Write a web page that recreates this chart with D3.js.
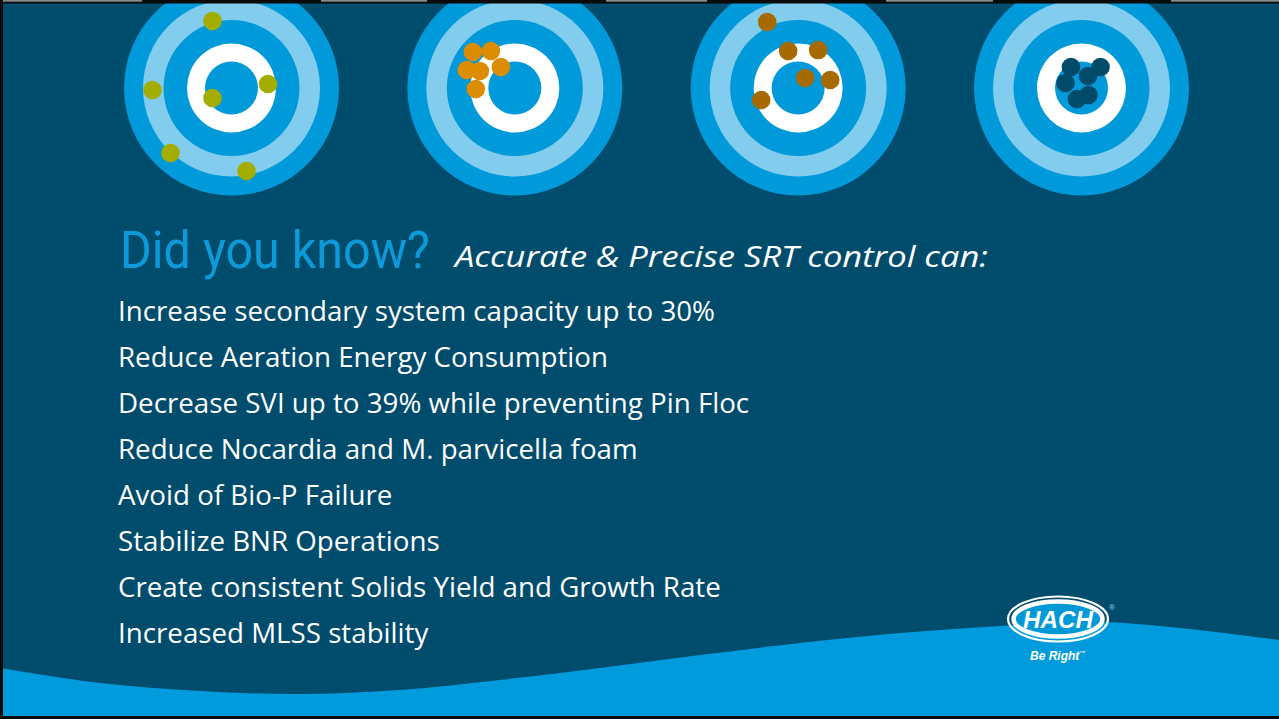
<!DOCTYPE html>
<html>
<head>
<meta charset="utf-8">
<script src="https://cdn.jsdelivr.net/npm/d3@7"></script>
<style>
  html, body { margin: 0; padding: 0; background: #004c6c; overflow: hidden; }
  svg { display: block; }
</style>
</head>
<body>
<div id="container"></div>
<script>
const width = 1279;
const height = 719;

// Shot groups per target, in target units (outer ring = 100).
const targets = ['scattered', 'precise', 'accurate-ish', 'accurate & precise'];
const dotColors = ['#a3ad00', '#dc8c00', '#a66a00', '#004a6a'];
const shots = [
  [[-17.7, -62.3], [-73.5, 1.9], [34, -3.7], [-17.7, 9.3], [-56.7, 60.5], [14, 77.2]],
  [[-39, -33.5], [-22.3, -34.4], [-44.7, -16.7], [-32.6, -15.8], [-13, -19.5], [-36.3, 0.9]],
  [[-28.8, -61.4], [-9.3, -34.4], [18.6, -35.3], [6.5, -9.3], [29.8, -7.4], [-34.4, 11.2]],
  [[-9.8, -19.5], [17.7, -19.5], [6, -11.2], [-14.9, -4.7], [6.5, 6.5], [-4.2, 10.2]]
];

const title = 'Did you know?';
const subtitle = 'Accurate & Precise SRT control can:';
const bullets = [
  'Increase secondary system capacity up to 30%',
  'Reduce Aeration Energy Consumption',
  'Decrease SVI up to 39% while preventing Pin Floc',
  'Reduce Nocardia and M. parvicella foam',
  'Avoid of Bio-P Failure',
  'Stabilize BNR Operations',
  'Create consistent Solids Yield and Growth Rate',
  'Increased MLSS stability'
];

// wave outline along the bottom
const waveX = [0, 100, 200, 300, 400, 500, 600, 700, 800, 900, 1000, 1100, 1180, 1279];
const waveY = [668, 683, 691, 694, 690, 680, 668, 655, 643, 633, 626, 622, 628, 640];

// ring radii (outer to inner) and fills
const rings = [
  {r: 107.5, fill: '#0099da'},
  {r: 88.5, fill: '#82cdee'},
  {r: 68, fill: '#0099da'},
  {r: 44.5, fill: '#ffffff'},
  {r: 26.5, fill: '#0099da'}
];
const dotRadius = 9.3;

function render() {
  const svg = d3.select('#container').append('svg')
    .attr('width', width)
    .attr('height', height)
    .attr('viewBox', [0, 0, width, height]);

  svg.append('rect')
    .attr('width', width)
    .attr('height', height)
    .attr('fill', '#004c6c');

  // bottom wave
  const wx = d3.scaleLinear().domain([0, 1279]).range([0, width]);
  const wy = d3.scaleLinear().domain([0, 719]).range([0, height]);
  const wave = d3.area()
    .x(d => wx(d[0]))
    .y0(height - 3)
    .y1(d => wy(d[1]))
    .curve(d3.curveCatmullRom);
  svg.append('path')
    .datum(d3.zip(waveX, waveY))
    .attr('d', wave)
    .attr('fill', '#009bdc');

  // targets
  const cx = d3.scaleLinear().domain([0, targets.length - 1]).range([231.5, 1081.5]);
  const cy = 88;
  const unit = d3.scaleLinear().domain([0, 100]).range([0, rings[0].r]);

  const target = svg.append('g')
    .selectAll('g')
    .data(targets)
    .join('g')
    .attr('transform', (d, i) => `translate(${cx(i)},${cy})`);

  target.selectAll('circle.ring')
    .data(rings)
    .join('circle')
    .attr('class', 'ring')
    .attr('r', d => d.r)
    .attr('fill', d => d.fill);

  target.selectAll('circle.shot')
    .data((d, i) => shots[i].map(s => ({x: s[0], y: s[1], c: dotColors[i]})))
    .join('circle')
    .attr('class', 'shot')
    .attr('cx', d => unit(d.x))
    .attr('cy', d => unit(d.y))
    .attr('r', dotRadius)
    .attr('fill', d => d.c);

  // frame edges
  svg.append('rect').attr('x', 0).attr('y', 0).attr('width', width).attr('height', 3.5).attr('fill', '#0a0a0a');
  const greys = [[0, 142], [321, 427], [606, 707], [886, 993], [1171, 1279]];
  svg.selectAll('rect.grey')
    .data(greys)
    .join('rect')
    .attr('class', 'grey')
    .attr('x', d => d[0])
    .attr('width', d => d[1] - d[0])
    .attr('y', 0)
    .attr('height', 1.7)
    .attr('fill', '#8a8a8a');
  svg.append('rect').attr('x', 0).attr('y', 0).attr('width', 3).attr('height', height).attr('fill', '#0a0a0a');
  svg.append('rect').attr('x', 0).attr('y', height - 3).attr('width', width).attr('height', 3).attr('fill', '#0a0a0a');

  // headline
  svg.append('text')
    .attr('x', 120)
    .attr('y', 268)
    .attr('font-family', 'Roboto, sans-serif')
    .attr('font-size', 51)
    .attr('fill', '#0d9ad9')
    .attr('textLength', 310)
    .attr('lengthAdjust', 'spacingAndGlyphs')
    .text(title);

  svg.append('text')
    .attr('x', 455)
    .attr('y', 267)
    .attr('font-family', '"Open Sans", sans-serif')
    .attr('font-style', 'italic')
    .attr('font-size', 30)
    .attr('fill', '#ffffff')
    .attr('textLength', 533)
    .attr('lengthAdjust', 'spacingAndGlyphs')
    .text(subtitle);

  // bullet list
  const rowY = d3.scaleLinear().domain([0, bullets.length - 1]).range([321, 643]);
  const lines = svg.append('g')
    .selectAll('text')
    .data(bullets)
    .join('text')
    .attr('x', 118)
    .attr('y', (d, i) => rowY(i))
    .attr('font-family', '"Open Sans", sans-serif')
    .attr('font-size', 28)
    .attr('fill', '#ffffff')
    .text(d => d);

  const squeeze = 597 / lines.node().getComputedTextLength();
  lines.each(function() {
    const w = this.getComputedTextLength();
    d3.select(this)
      .attr('textLength', w * squeeze)
      .attr('lengthAdjust', 'spacingAndGlyphs');
  });

  // HACH logo
  const logo = svg.append('g').attr('transform', 'translate(1058,619)');
  logo.append('ellipse')
    .attr('rx', 50).attr('ry', 22.5)
    .attr('fill', 'none')
    .attr('stroke', '#ffffff')
    .attr('stroke-width', 2.2);
  logo.append('ellipse')
    .attr('rx', 44.5).attr('ry', 17.5)
    .attr('fill', '#0099d8')
    .attr('stroke', '#ffffff')
    .attr('stroke-width', 4.5);
  logo.append('text')
    .attr('y', 8.5)
    .attr('text-anchor', 'middle')
    .attr('font-family', '"Liberation Sans", Arial, sans-serif')
    .attr('font-weight', 'bold')
    .attr('font-style', 'italic')
    .attr('font-size', 23)
    .attr('fill', '#ffffff')
    .attr('textLength', 70)
    .attr('lengthAdjust', 'spacingAndGlyphs')
    .text('HACH');
  logo.append('text')
    .attr('x', 51)
    .attr('y', -9)
    .attr('font-family', '"Liberation Sans", Arial, sans-serif')
    .attr('font-size', 8)
    .attr('fill', '#9fd6f0')
    .text('®');
  const tag = logo.append('text')
    .attr('x', -28)
    .attr('y', 41)
    .attr('font-family', '"Liberation Sans", Arial, sans-serif')
    .attr('font-weight', 'bold')
    .attr('font-style', 'italic')
    .attr('font-size', 12)
    .attr('fill', '#ffffff');
  tag.append('tspan').text('Be Right');
  tag.append('tspan').attr('font-size', 6).attr('dy', -5).text('™');
}

render();
</script>
</body>
</html>
